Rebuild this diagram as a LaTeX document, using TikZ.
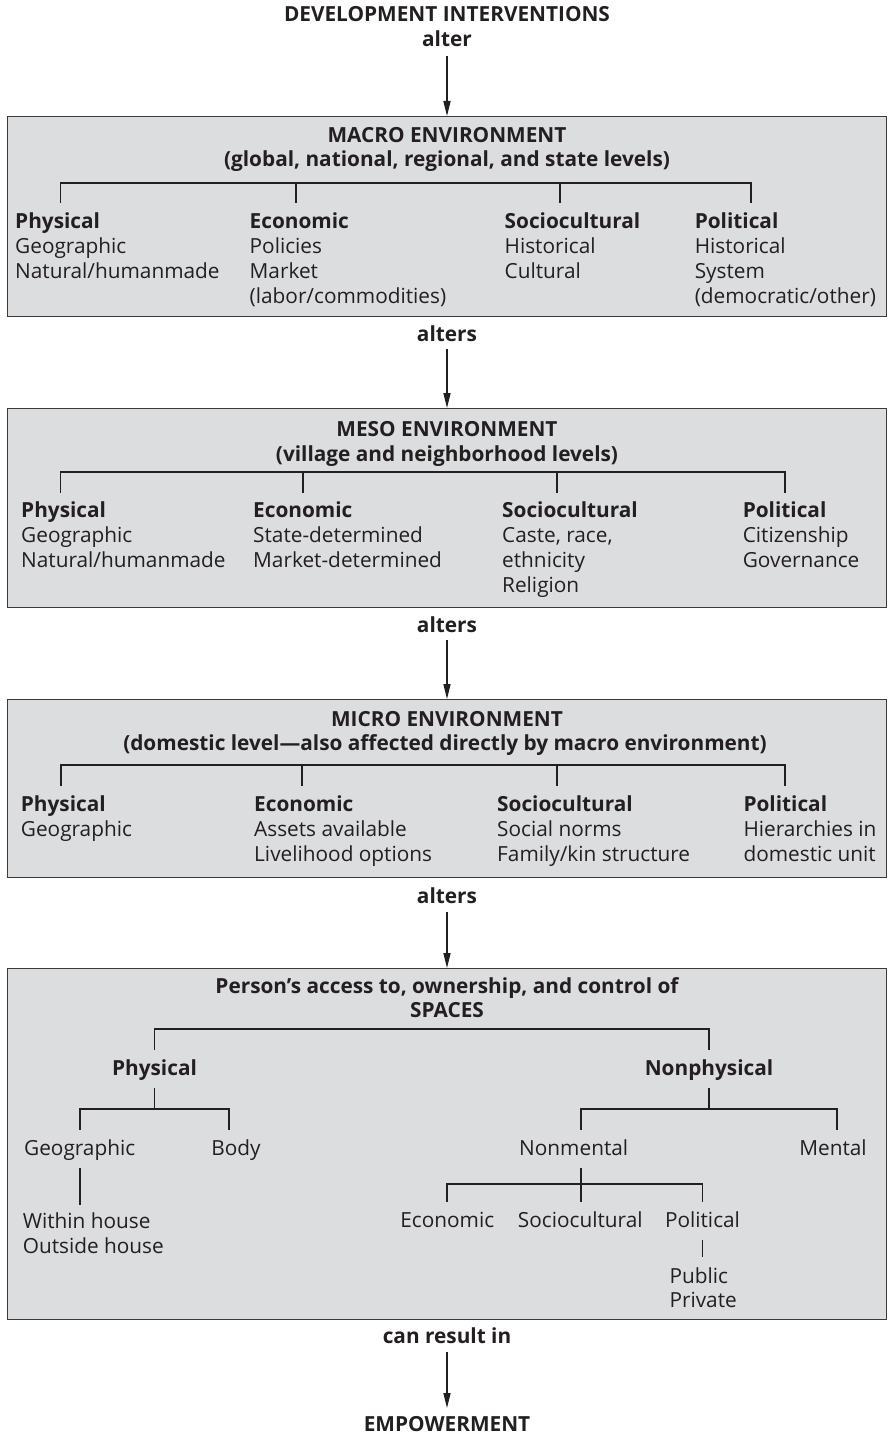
\documentclass[tikz,border=0pt]{standalone}
\usepackage{fontspec}
\setmainfont{Open Sans}
\usetikzlibrary{arrows.meta}
\definecolor{ink}{HTML}{231F20}
\definecolor{panelfill}{HTML}{DCDDDF}
\definecolor{panelline}{HTML}{3A3A3A}
\begin{document}
\fontsize{20.8}{24.8}\selectfont
\begin{tikzpicture}[x=1pt,y=-1pt,
  txt/.style={inner sep=0pt,anchor=base west,text=ink},
  ctr/.style={inner sep=0pt,anchor=base,text=ink},
  hd/.style={font=\bfseries},
  panel/.style={draw=panelline,fill=panelfill,line width=1.4pt,inner sep=0pt,anchor=north west},
  tree/.style={draw=ink,line width=1.8pt},
  flow/.style={draw=ink,line width=1.5pt,-{Triangle[length=15pt,width=7pt]}}]
\useasboundingbox (0,0) rectangle (887,1434);

% ---- panels ----
\node[panel,minimum width=879pt,minimum height=200pt] (p1) at (7,116) {};
\node[panel,minimum width=879pt,minimum height=199pt] (p2) at (7,408) {};
\node[panel,minimum width=879pt,minimum height=178pt] (p3) at (7,699) {};
\node[panel,minimum width=879pt,minimum height=351pt] (p4) at (7,968) {};

% ---- flow labels and arrows ----
\node[ctr,hd] (dev) at (447,22) {DEVELOPMENT INTERVENTIONS};
\node[ctr,hd] (lab0) at (447,46.5) {alter};
\node[ctr,hd] (lab1) at (447,341) {alters};
\node[ctr,hd] (lab2) at (447,632) {alters};
\node[ctr,hd] (lab3) at (447,903) {alters};
\node[ctr,hd] (lab4) at (447,1343) {can result in};
\node[ctr,hd] (emp) at (447,1431) {EMPOWERMENT};

\draw[flow] ([yshift=-10pt]lab0.base) -- (lab0.base |- p1.north);
\draw[flow] ([yshift=-8pt]lab1.base) -- (lab1.base |- p2.north);
\draw[flow] ([yshift=-8pt]lab2.base) -- (lab2.base |- p3.north);
\draw[flow] ([yshift=-9pt]lab3.base) -- (lab3.base |- p4.north);
\draw[flow] ([yshift=-9pt]lab4.base) -- ([yshift=23pt]emp.base);

% ---- macro environment ----
\node[ctr,hd] (m-t1) at (447,142.5) {MACRO ENVIRONMENT};
\node[ctr,hd] (m-t2) at (447,167) {(global, national, regional, and state levels)};
\draw[tree] (60.5,203) |- (751,183) -- (751,203);
\foreach \x in {296,560} \draw[tree] (\x,183) -- (\x,203);
\foreach \h/\x/\items [count=\c] in {
    Physical/15/{Geographic,Natural/humanmade},
    Economic/249.5/{Policies,Market,(labor/commodities)},
    Sociocultural/504.5/{Historical,Cultural},
    Political/694.6/{Historical,System,(democratic/other)}}{
  \node[txt,hd] (m-h\c) at (\x,228) {\h};
  \foreach \t [count=\i] in \items
    \node[txt] (m-\c-\i) at (\x,228+25*\i) {\t};
}

% ---- meso environment ----
\node[ctr,hd] (s-t1) at (447,436.5) {MESO ENVIRONMENT};
\node[ctr,hd] (s-t2) at (447,461.5) {(village and neighborhood levels)};
\draw[tree] (60.5,493) |- (785,472) -- (785,493);
\foreach \x in {302.6,557} \draw[tree] (\x,472) -- (\x,493);
\foreach \h/\x/\items [count=\c] in {
    Physical/21/{Geographic,Natural/humanmade},
    Economic/253/{State-determined,Market-determined},
    Sociocultural/502/{{Caste, race,},ethnicity,Religion},
    Political/742.6/{Citizenship,Governance}}{
  \node[txt,hd] (s-h\c) at (\x,517.5) {\h};
  \foreach \t [count=\i] in \items
    \node[txt] (s-\c-\i) at (\x,517.5+25*\i) {\t};
}

% ---- micro environment ----
\node[ctr,hd] (c-t1) at (447,726.5) {MICRO ENVIRONMENT};
\node[ctr,hd] (c-t2) at (445,750.5) {(domestic level---also affected directly by macro environment)};
\draw[tree] (61,786) |- (785,765) -- (785,786);
\foreach \x in {302,557} \draw[tree] (\x,765) -- (\x,786);
\foreach \h/\x/\items [count=\c] in {
    Physical/20.7/{Geographic},
    Economic/254/{Assets available,Livelihood options},
    Sociocultural/497/{Social norms,Family/kin structure},
    Political/743.3/{Hierarchies in,domestic unit}}{
  \node[txt,hd] (c-h\c) at (\x,811) {\h};
  \foreach \t [count=\i] in \items
    \node[txt] (c-\c-\i) at (\x,811+25*\i) {\t};
}

% ---- spaces ----
\node[ctr,hd] (sp-t1) at (447,993) {Person’s access to, ownership, and control of};
\node[ctr,hd] (sp-t2) at (447,1017.5) {SPACES};
\tikzset{leaf/.style={ctr,text height=16pt,text depth=4pt,inner ysep=9pt}}
\node[leaf,hd] (phys) at (154.5,1075) {Physical};
\node[leaf,hd] (nonphys) at (709,1075) {Nonphysical};
\node[leaf] (geo) at (79.7,1155) {Geographic};
\node[leaf] (body) at (236,1155) {Body};
\node[leaf] (nonment) at (573.7,1155) {Nonmental};
\node[leaf] (ment) at (833,1155) {Mental};
\node[leaf] (econ) at (447.3,1227) {Economic};
\node[leaf] (socio) at (580.3,1227) {Sociocultural};
\node[leaf] (polit) at (702.5,1227) {Political};
\node[txt] (within) at (22.6,1228) {Within house};
\node[txt] (outside) at (22.6,1253) {Outside house};
\node[txt] (public) at (669.3,1283) {Public};
\node[txt] (private) at (669.3,1307.5) {Private};

\coordinate (bodytop) at ([xshift=-7pt]body.north);
\coordinate (nmtop) at ([xshift=7pt]nonment.north);
\coordinate (nmbot) at ([xshift=7pt]nonment.south);
\coordinate (mtop) at ([xshift=4pt]ment.north);

\draw[tree] (phys.north) -- ++(0,-21) -| (nonphys.north);
\draw[tree] (phys.south) -- ++(0,21) coordinate (pj) -| (geo.north);
\draw[tree] (pj) -| (bodytop);
\draw[tree] (geo.south) -- (geo.south |- 0,1205);
\draw[tree] (nonphys.south) -- ++(0,21) coordinate (nj) -| (nmtop);
\draw[tree] (nj) -| (mtop);
\draw[tree] (nmbot) -- (nmbot |- socio.north);
\draw[tree] (econ.north) |- ([yshift=18pt]polit.north) -- (polit.north);
\draw[tree] (polit.south) -- (polit.south |- 0,1257);
\end{tikzpicture}
\end{document}
